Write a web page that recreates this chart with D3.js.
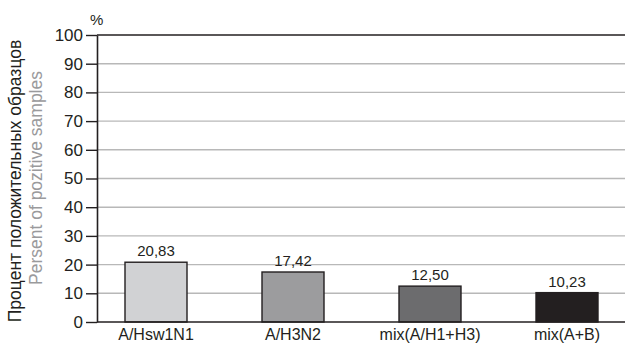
<!DOCTYPE html>
<html>
<head>
<meta charset="utf-8">
<script src="https://cdn.jsdelivr.net/npm/d3@7"></script>
<style>
  html, body { margin: 0; padding: 0; background: #fff; }
  svg { display: block; }
  text { font-family: "Liberation Sans", Arial, sans-serif; fill: #231f20; }
</style>
</head>
<body>
<script>
// Share of positive samples by subtype
const categories = ["A/Hsw1N1", "A/H3N2", "mix(A/H1+H3)", "mix(A+B)"];
const values = [20.83, 17.42, 12.50, 10.23];
const valueLabels = ["20,83", "17,42", "12,50", "10,23"];
const barColors = ["#d1d2d4", "#9c9c9e", "#6c6c6e", "#231f20"];
const yTicks = [0, 10, 20, 30, 40, 50, 60, 70, 80, 90, 100];

(function draw() {
  const W = 625, H = 345;
  const plotLeft = 97, plotRight = 625, plotTop = 35, plotBottom = 322;
  const barW = 62;

  const svg = d3.select("body").append("svg").attr("width", W).attr("height", H);

  const y = d3.scaleLinear().domain([0, 100]).range([plotBottom, plotTop]);
  const x = d3.scalePoint().domain(categories).range([156, 567]);

  // horizontal gridlines
  svg.append("g").selectAll("line").data(yTicks.filter(d => d > 0 && d < 100)).join("line")
    .attr("x1", plotLeft).attr("x2", plotRight)
    .attr("y1", d => y(d)).attr("y2", d => y(d))
    .attr("stroke", "#b8b8b8").attr("stroke-width", 1.4);

  // top line at 100
  svg.append("line").attr("x1", plotLeft).attr("x2", plotRight)
    .attr("y1", y(100)).attr("y2", y(100))
    .attr("stroke", "#231f20").attr("stroke-width", 1.4);

  // bars
  svg.append("g").selectAll("rect").data(values).join("rect")
    .attr("x", (d, i) => x(categories[i]) - barW / 2)
    .attr("width", barW)
    .attr("y", d => y(d))
    .attr("height", d => y(0) - y(d))
    .attr("fill", (d, i) => barColors[i])
    .attr("stroke", "#231f20").attr("stroke-width", 1.4);

  // value labels
  svg.append("g").selectAll("text").data(values).join("text")
    .attr("x", (d, i) => x(categories[i]))
    .attr("y", d => y(d) - 6)
    .attr("text-anchor", "middle")
    .attr("font-size", 15)
    .text((d, i) => valueLabels[i]);

  // y axis
  const yAxis = d3.axisLeft(y).tickValues(yTicks).tickSize(11).tickPadding(3).tickSizeOuter(0);
  const ga = svg.append("g").attr("transform", `translate(${plotLeft},0)`).call(yAxis);
  ga.select(".domain").attr("stroke", "#231f20").attr("stroke-width", 1.6);
  ga.selectAll(".tick line").attr("stroke", "#231f20").attr("stroke-width", 1.4);
  ga.selectAll(".tick text").attr("font-size", 17).attr("fill", "#231f20")
    .attr("font-family", "'Liberation Sans', Arial, sans-serif");

  // x baseline
  svg.append("line").attr("x1", plotLeft).attr("x2", plotRight)
    .attr("y1", y(0)).attr("y2", y(0))
    .attr("stroke", "#231f20").attr("stroke-width", 1.6);

  // category labels
  svg.append("g").selectAll("text").data(categories).join("text")
    .attr("x", d => x(d))
    .attr("y", 340)
    .attr("text-anchor", "middle")
    .attr("font-size", 16)
    .text(d => d);

  // unit
  svg.append("text").attr("x", 90).attr("y", 25).attr("font-size", 15).text("%");

  // axis titles
  svg.append("text")
    .attr("transform", "translate(21,181) rotate(-90)")
    .attr("text-anchor", "middle").attr("font-size", 17.5)
    .text("Процент положительных образцов");
  svg.append("text")
    .attr("transform", "translate(42,178) rotate(-90)")
    .attr("text-anchor", "middle").attr("font-size", 17.5)
    .style("fill", "#9a9a9c")
    .text("Persent of pozitive samples");
})();
</script>
</body>
</html>
